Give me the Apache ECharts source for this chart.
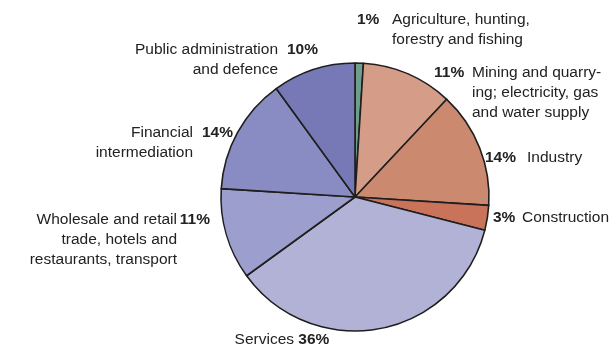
<!DOCTYPE html>
<html>
<head>
<meta charset="utf-8">
<script src="https://cdn.jsdelivr.net/npm/echarts@6/dist/echarts.min.js"></script>
<style>
html,body{margin:0;padding:0;background:#fff;}
#chart{width:611px;height:345px;}
</style>
</head>
<body>
<div id="chart"></div>
<script>
// Data
var categories = [
  "Agriculture, hunting, forestry and fishing",
  "Mining and quarrying; electricity, gas and water supply",
  "Industry",
  "Construction",
  "Services",
  "Wholesale and retail trade, hotels and restaurants, transport",
  "Financial intermediation",
  "Public administration and defence"
];
var values = [1, 11, 14, 3, 36, 11, 14, 10];
var labelLines = [
  ["Agriculture, hunting,", "forestry and fishing"],
  ["Mining and quarry-", "ing; electricity, gas", "and water supply"],
  ["Industry"],
  ["Construction"],
  ["Services"],
  ["Wholesale and retail", "trade, hotels and", "restaurants, transport"],
  ["Financial", "intermediation"],
  ["Public administration", "and defence"]
];

// Styles / layout (not data)
var colors = ["#6f9e8b", "#d59d87", "#cb8970", "#c8735a", "#b1b2d6", "#9c9ecd", "#898cc3", "#7679b6"];
var FONT = "Liberation Sans, Arial, sans-serif";
var FS = 15.5;
var layout = [
  {side: "r", x: 357, y: 10, pw: 35},
  {side: "r", x: 434, y: 63, pw: 38},
  {side: "r", x: 485, y: 148, pw: 42},
  {side: "r", x: 493, y: 208, pw: 29},
  {side: "c", x: 282, y: 330, pw: 0},
  {side: "l", x: 210, y: 210, pw: 33},
  {side: "l", x: 233, y: 123, pw: 40},
  {side: "l", x: 318, y: 40, pw: 40}
];

var rich = {
  n: {fontSize: FS, fontFamily: FONT, color: "#222", lineHeight: 20},
  c: {fontSize: FS, fontFamily: FONT, color: "#222", lineHeight: 20},
  cb: {fontSize: FS, fontWeight: "bold", fontFamily: FONT, color: "#222", lineHeight: 20}
};
layout.forEach(function (l, i) {
  rich["p" + i] = {fontSize: FS, fontWeight: "bold", fontFamily: FONT, color: "#222", lineHeight: 20, width: l.pw, align: l.side === "r" ? "left" : "right"};
  rich["s" + i] = {width: l.pw, lineHeight: 20, align: l.side === "r" ? "left" : "right"};
});

function fmt(params) {
  var i = params.dataIndex;
  var l = layout[i];
  var lines = labelLines[i];
  var pct = values[i] + "%";
  if (l.side === "c") {
    return "{c|" + lines[0] + " }{cb|" + pct + "}";
  }
  var out = [];
  lines.forEach(function (t, k) {
    if (l.side === "r") {
      out.push((k === 0 ? "{p" + i + "|" + pct + "}" : "{s" + i + "|}") + "{n|" + t + "}");
    } else {
      out.push("{n|" + t + "}" + (k === 0 ? "{p" + i + "|" + pct + "}" : "{s" + i + "|}"));
    }
  });
  return out.join("\n");
}

var chart = echarts.init(document.getElementById("chart"), null, {renderer: "canvas"});
chart.setOption({
  animation: false,
  backgroundColor: "#fff",
  series: [{
    type: "pie",
    center: [355, 197],
    radius: 134,
    startAngle: 90,
    clockwise: true,
    silent: true,
    data: categories.map(function (c, i) {
      return {name: c, value: values[i], itemStyle: {color: colors[i]}};
    }),
    itemStyle: {borderColor: "#1e1e1e", borderWidth: 1.6},
    label: {show: true, position: "outside", overflow: "none", formatter: fmt, rich: rich},
    labelLine: {show: false},
    labelLayout: function (p) {
      var l = layout[p.dataIndex];
      return {
        x: l.x, y: l.y,
        align: l.side === "r" ? "left" : (l.side === "l" ? "right" : "center"),
        verticalAlign: "top",
        hideOverlap: false
      };
    }
  }]
});
</script>
</body>
</html>
